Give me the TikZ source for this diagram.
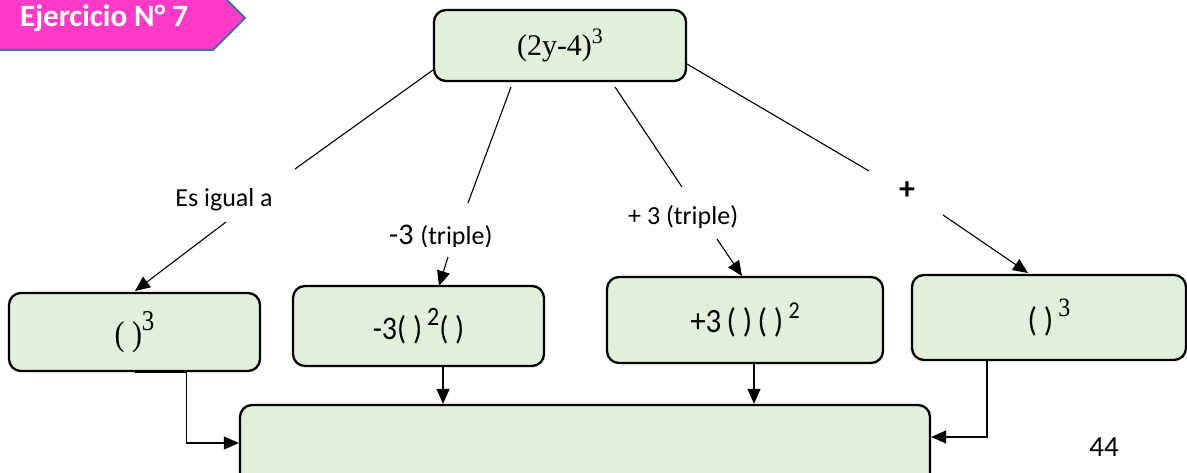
\documentclass[tikz,border=0pt]{standalone}
\usepackage{fontspec}
\setmainfont{Carlito}
\newfontfamily\tnr{Liberation Serif}
\usetikzlibrary{arrows.meta}
\definecolor{boxfill}{HTML}{E2EFDA}
\definecolor{bannerpink}{HTML}{FF3AC8}
\definecolor{bannerblue}{HTML}{41719C}
\newcommand{\fs}[1]{\fontsize{#1}{#1}\selectfont}
\newcommand{\supr}[2]{\raisebox{0.42em}{\fs{#1}#2}}
\tikzset{
  box/.style={draw=black, line width=2.3pt, rounded corners=12pt, fill=boxfill, inner sep=0pt, align=center},
  conn/.style={draw=black, line width=1.1pt},
  arr/.style={conn, -{Triangle[length=15pt,width=13pt]}},
  lbl/.style={inner sep=0pt, anchor=base west},
}
\begin{document}
\begin{tikzpicture}[x=1pt,y=-1pt]
\useasboundingbox (0,0) rectangle (1187,473);
% banner
\path[fill=bannerpink, draw=bannerblue, line width=2pt] (-5,50) -- (213,50) -- (245,18) -- (213,-14) -- (-5,-14) -- cycle;
\node[lbl, text=white] (title) at (20,27) {\fs{31}\bfseries Ejercicio N° 7};
% boxes
\node[box, minimum width=252pt, minimum height=71pt] (top) at (560,45.5) {\tnr\fs{30}(2y-4)\supr{22}{3}};
\node[box, minimum width=251pt, minimum height=78pt] (b1) at (134.5,332) {\scalebox{1}[1.15]{\tnr\fs{30}(\ )\supr{25}{3}}};
\node[box, minimum width=251pt, minimum height=80pt] (b2) at (418.5,326) {\scalebox{1}[1.1]{\fs{30}-3(\ )\,\supr{24}{2}(\ )}};
\node[box, minimum width=276pt, minimum height=86pt] (b3) at (745,320) {\raisebox{3pt}{\scalebox{1}[1.1]{\fs{31}+3\,(\ )\,(\ )\,\supr{22}{2}}}};
\node[box, minimum width=274pt, minimum height=85pt] (b4) at (1049,317.5) {\raisebox{4pt}{\scalebox{1}[1.1]{\fs{31}(\ )\,\supr{24}{\tnr 3}}}};
\node[box, minimum width=690pt, minimum height=100pt] (bot) at (585,455) {};
% labels
\node[inner sep=0pt] (l1) at (224,200) {\fs{26}Es igual a};
\begin{scope}
\clip (380,215) rectangle (500,247);
\node[lbl] (l2) at (389,245) {\fs{30}-3 \fs{26}(triple)};
\end{scope}
\node[lbl] (l3) at (628,225) {\fs{26}+ 3 (triple)};
\node[inner sep=0pt] (l4) at (907,191) {\fs{32}\bfseries +};
\node[inner sep=0pt] (pg) at (1104,447) {\fs{29}44};
% connector end points
\coordinate (t1) at (433,70);  \coordinate (e1) at (295,169);
\coordinate (s1) at (226,222); \coordinate (a1) at (135,291);
\coordinate (t2) at (511,87);  \coordinate (e2) at (468,203);
\coordinate (s2) at (448,257); \coordinate (a2) at (439,286);
\coordinate (t3) at (615,87);  \coordinate (e3) at (682,187);
\coordinate (s3) at (717,239); \coordinate (a3) at (742,276);
\coordinate (t4) at (687,64);  \coordinate (e4) at (869,171);
\coordinate (s4) at (943,215); \coordinate (a4) at (1028,273);
\draw[conn] (t1) -- (e1);
\draw[arr] (s1) -- (a1);
\draw[conn] (t2) -- (e2);
\draw[arr] (s2) -- (a2);
\draw[conn] (t3) -- (e3);
\draw[arr] (s3) -- (a3);
\draw[conn] (t4) -- (e4);
\draw[arr] (s4) -- (a4);
% to bottom box
\draw[arr] (b2.south -| 443,0) -- (bot.north -| 443,0);
\draw[arr] (b3.south -| 754,0) -- (bot.north -| 754,0);
\draw[arr] (b1.south) -- ++(52,0) |- (bot.west |- 0,443);
\draw[arr] (b4.south -| 987,0) |- (bot.east |- 0,437);
\end{tikzpicture}
\end{document}
